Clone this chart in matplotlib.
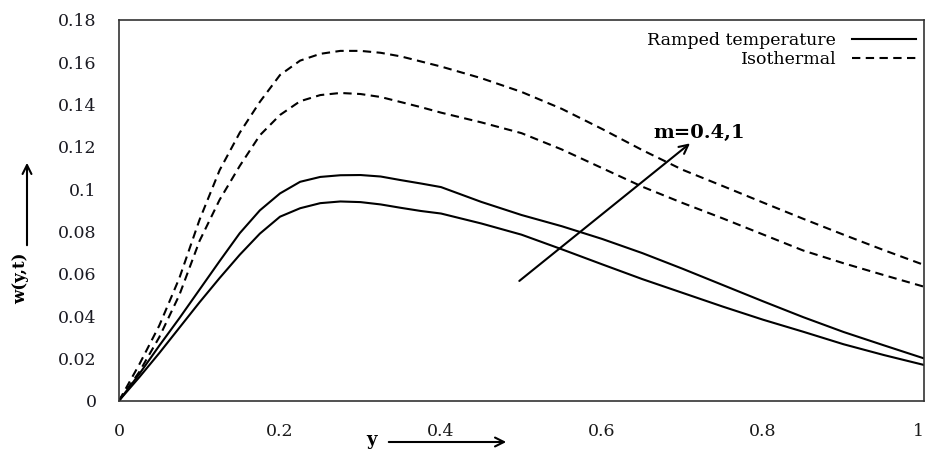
import matplotlib
matplotlib.use("Agg")
import matplotlib.pyplot as plt
from matplotlib.patches import FancyArrowPatch

# ---- data ----
y_pos = [0, 0.025, 0.05, 0.075, 0.1, 0.125, 0.15, 0.175, 0.2, 0.225, 0.25, 0.275,
         0.3, 0.325, 0.35, 0.375, 0.4, 0.45, 0.5, 0.55, 0.6, 0.65, 0.7, 0.75, 0.8,
         0.85, 0.9, 0.95, 1.0]

w_iso_m1 = [0, 0.017, 0.0355, 0.058, 0.0855, 0.109, 0.1267, 0.1413, 0.1540, 0.1608, 0.1640, 0.1654,
            0.1654, 0.1645, 0.1628, 0.1604, 0.1580, 0.1525, 0.1460, 0.1380, 0.1285, 0.1185, 0.1092, 0.1015,
            0.0937, 0.0860, 0.0785, 0.0712, 0.0642]

w_iso_m04 = [0, 0.0135, 0.030, 0.050, 0.0755, 0.095, 0.1110, 0.1255, 0.1351, 0.1416, 0.1445, 0.1455,
             0.1450, 0.1436, 0.1412, 0.1388, 0.1362, 0.1316, 0.1265, 0.1188, 0.1100, 0.1012, 0.0935, 0.0862,
             0.0786, 0.0710, 0.0650, 0.0594, 0.0539]

w_ramp_m1 = [0, 0.0125, 0.026, 0.039, 0.0525, 0.0660, 0.0792, 0.0900, 0.0980, 0.1035, 0.1058, 0.1066,
             0.1067, 0.1060, 0.1043, 0.1027, 0.1010, 0.0940, 0.0878, 0.0825, 0.0765, 0.0698, 0.0624, 0.0547,
             0.0470, 0.0395, 0.0325, 0.0262, 0.0200]

w_ramp_m04 = [0, 0.011, 0.0225, 0.0345, 0.0465, 0.0580, 0.0690, 0.0790, 0.0870, 0.0910, 0.0934, 0.0942,
              0.0939, 0.0928, 0.0912, 0.0897, 0.0885, 0.0838, 0.0785, 0.0716, 0.0645, 0.0575, 0.0510, 0.0445,
              0.0383, 0.0326, 0.0267, 0.0216, 0.0169]

x_ticks = [0, 0.2, 0.4, 0.6, 0.8, 1.0]
x_tick_labels = ["0", "0.2", "0.4", "0.6", "0.8", "1"]
y_ticks = [0, 0.02, 0.04, 0.06, 0.08, 0.1, 0.12, 0.14, 0.16, 0.18]
y_tick_labels = ["0", "0.02", "0.04", "0.06", "0.08", "0.1", "0.12", "0.14", "0.16", "0.18"]

legend_labels = ["Ramped temperature", "Isothermal"]
arrow_label = "m=0.4,1"

# ---- figure ----
W, H = 927, 450
fig = plt.figure(figsize=(W / 100, H / 100), dpi=100)
ax_left, ax_right, ax_top, ax_bottom = 119, 924, 20, 400.7
ax = fig.add_axes([ax_left / W, 1 - ax_bottom / H, (ax_right - ax_left) / W, (ax_bottom - ax_top) / H])

serif = ["DejaVu Serif"]
dash = (0, (4, 2.6))

ax.plot(y_pos, w_ramp_m04, color="black", lw=1.5, solid_joinstyle="round")
h_ramp, = ax.plot(y_pos, w_ramp_m1, color="black", lw=1.5, solid_joinstyle="round")
ax.plot(y_pos, w_iso_m04, color="black", lw=1.5, linestyle=dash)
h_iso, = ax.plot(y_pos, w_iso_m1, color="black", lw=1.5, linestyle=dash)

ax.set_xlim(0, 1)
ax.set_ylim(0, 0.18)
ax.set_xticks(x_ticks)
ax.set_xticklabels(x_tick_labels, family=serif, fontsize=12.5, color="#1a1a1a")
ax.get_xticklabels()[-1].set_horizontalalignment("right")
ax.set_yticks(y_ticks)
ax.set_yticklabels(y_tick_labels, family=serif, fontsize=12.5, color="#1a1a22")
ax.tick_params(axis="both", length=0)
ax.tick_params(axis="x", pad=16)
ax.tick_params(axis="y", pad=16)
for s in ax.spines.values():
    s.set_color("#333333")
    s.set_linewidth(1.2)

leg = ax.legend([h_ramp, h_iso], legend_labels, loc="upper right",
                bbox_to_anchor=(916 / W, 1 - 32 / H), bbox_transform=fig.transFigure,
                frameon=False, markerfirst=False, handlelength=3.7, handletextpad=0.9,
                labelspacing=0.12, borderpad=0, borderaxespad=0,
                prop={"family": serif, "size": 12.5})

# arrow showing increasing m
ax.annotate("", xy=(0.712, 0.1225), xytext=(0.4946, 0.0558),
            arrowprops=dict(arrowstyle="->", lw=1.5, color="black", mutation_scale=16))
ax.text(0.664, 0.1264, arrow_label, family=serif, fontsize=14, fontweight="bold",
        ha="left", va="center")

# axis labels with arrows (outside the axes)
fig.text(21 / W, 1 - 278 / H, "w(y,t)", rotation=90, family=serif, fontsize=12,
         fontweight="bold", ha="center", va="center")
fig.add_artist(FancyArrowPatch(
    (27 / W, 1 - 248 / H), (27 / W, 1 - 160 / H), transform=fig.transFigure,
    arrowstyle="->", mutation_scale=16, lw=1.5, color="black"))
fig.text(372 / W, 1 - 440 / H, "y", family=serif, fontsize=13, fontweight="bold",
         ha="center", va="center")
fig.add_artist(FancyArrowPatch(
    (386 / W, 1 - 442 / H), (509 / W, 1 - 442 / H), transform=fig.transFigure,
    arrowstyle="->", mutation_scale=16, lw=1.5, color="black"))

fig.savefig("out.png", dpi=100)
